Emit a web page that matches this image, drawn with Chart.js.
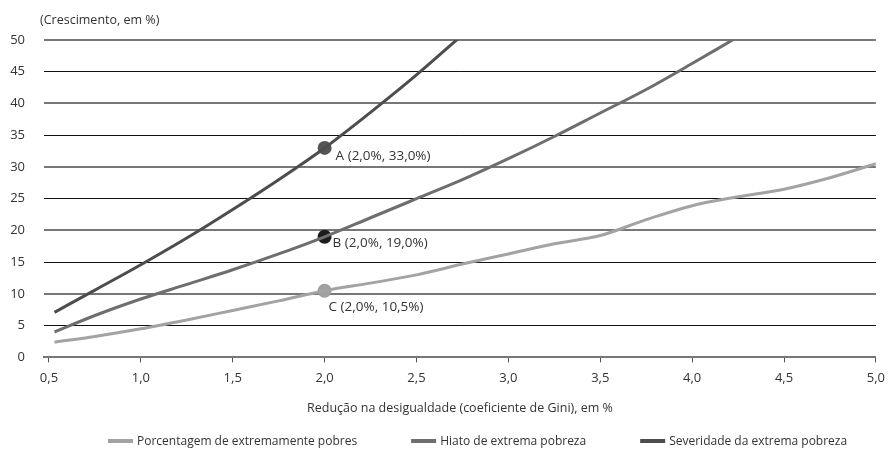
<!DOCTYPE html>
<html>
<head>
<meta charset="utf-8">
<script src="https://cdn.jsdelivr.net/npm/chart.js@4.4.1/dist/chart.umd.min.js"></script>
<style>
    html, body { margin: 0; padding: 0; background: #ffffff; }
    #wrap { width: 893px; height: 450px; }
</style>
</head>
<body>
<div id="wrap"><canvas id="gini-chart"></canvas></div>
<script>
// Reducao do Gini (x) e crescimento necessario (y)
const xPobres = [0.53, 0.75, 1.0, 1.25, 1.5, 1.75, 2.0, 2.25, 2.5, 2.75, 3.0, 3.25, 3.5, 3.75, 4.0, 4.25, 4.5, 4.75, 5.0];
const yPobres = [2.4, 3.3, 4.5, 5.9, 7.4, 8.9, 10.5, 11.7, 13.0, 14.7, 16.3, 17.9, 19.2, 21.7, 23.9, 25.3, 26.5, 28.3, 30.5];

const xHiato = [0.53, 0.75, 1.0, 1.25, 1.5, 1.75, 2.0, 2.25, 2.5, 2.75, 3.0, 3.25, 3.5, 3.75, 4.0, 4.22];
const yHiato = [4.0, 6.6, 9.2, 11.5, 13.8, 16.3, 19.0, 22.0, 25.0, 28.0, 31.3, 34.8, 38.5, 42.2, 46.3, 50.0];

const xSeveridade = [0.53, 0.75, 1.0, 1.25, 1.5, 1.75, 2.0, 2.25, 2.5, 2.73];
const ySeveridade = [7.1, 10.6, 14.6, 18.8, 23.3, 28.0, 33.0, 38.6, 44.5, 50.3];

const seriesNames = ["Porcentagem de extremamente pobres", "Hiato de extrema pobreza", "Severidade da extrema pobreza"];

// pontos destacados A, B, C
const markLetters = ["A", "B", "C"];
const markX = [2.0, 2.0, 2.0];
const markY = [33.0, 19.0, 10.5];

const xTicks = [0.5, 1.0, 1.5, 2.0, 2.5, 3.0, 3.5, 4.0, 4.5, 5.0];
const yTicks = [0, 5, 10, 15, 20, 25, 30, 35, 40, 45, 50];

const FONT = "'Open Sans', 'DejaVu Sans', sans-serif";
const TEXT = "#333333";
const lineColors = ["#a3a3a3", "#6e6e6e", "#4d4d4d"];
const markColors = ["#555555", "#1c1c1c", "#a0a0a0"];

function pairs(xs, ys) {
    return xs.map((x, i) => ({ x: x, y: ys[i] }));
}

function fmt(v, d) {
    return v.toFixed(d).replace(".", ",");
}

const lineOpts = {
    borderWidth: 3,
    pointRadius: 0,
    tension: 0.2,
    cubicInterpolationMode: "monotone",
    fill: false
};

// texto dos pontos, titulo do eixo y e legenda
const extrasPlugin = {
    id: "extras",
    afterDraw(chart) {
        const ctx = chart.ctx;
        const xs = chart.scales.x;
        const ys = chart.scales.y;
        const area = chart.chartArea;
        ctx.save();
        ctx.fillStyle = TEXT;
        ctx.textBaseline = "middle";
        ctx.textAlign = "left";

        ctx.font = "13.5px " + FONT;
        const offsets = [[11, 8], [8, 6], [4, 16]];
        markLetters.forEach((l, i) => {
            const px = xs.getPixelForValue(markX[i]);
            const py = ys.getPixelForValue(markY[i]);
            const label = l + " (" + fmt(markX[i], 1) + "%, " + fmt(markY[i], 1) + "%)";
            ctx.fillText(label, px + offsets[i][0], py + offsets[i][1]);
        });

        ctx.font = "12.5px " + FONT;
        ctx.fillText("(Crescimento, em %)", area.left - 4, area.top - 20);

        // legenda
        ctx.font = "12px " + FONT;
        const sw = 25, gap = 54, textGap = 4;
        const widths = seriesNames.map(n => sw + textGap + ctx.measureText(n).width);
        let x = area.left + 64;
        const y = chart.height - 9;
        seriesNames.forEach((n, i) => {
            ctx.fillStyle = lineColors[i];
            ctx.fillRect(x, y - 2, sw, 4);
            ctx.fillStyle = TEXT;
            ctx.fillText(n, x + sw + textGap, y + 1);
            x += widths[i] + gap;
        });
        ctx.restore();
    }
};

const ctx = document.getElementById("gini-chart").getContext("2d");

new Chart(ctx, {
    type: "line",
    data: {
        datasets: [
            Object.assign({ label: seriesNames[0], data: pairs(xPobres, yPobres), borderColor: lineColors[0] }, lineOpts),
            Object.assign({ label: seriesNames[1], data: pairs(xHiato, yHiato), borderColor: lineColors[1] }, lineOpts),
            Object.assign({ label: seriesNames[2], data: pairs(xSeveridade, ySeveridade), borderColor: lineColors[2] }, lineOpts),
            {
                type: "scatter",
                label: "pontos",
                data: pairs(markX, markY),
                pointRadius: 7,
                pointHoverRadius: 7,
                pointBackgroundColor: markColors,
                pointBorderColor: markColors,
                pointBorderWidth: 0,
                showLine: false
            }
        ]
    },
    options: {
        responsive: true,
        maintainAspectRatio: false,
        animation: false,
        devicePixelRatio: 1,
        layout: { padding: { top: 40, left: 0, right: 11, bottom: 30 } },
        plugins: {
            legend: { display: false },
            tooltip: { enabled: false }
        },
        scales: {
            x: {
                type: "linear",
                min: 0.473,
                max: 5.0,
                afterBuildTicks: axis => { axis.ticks = xTicks.map(v => ({ value: v })); },
                grid: { drawOnChartArea: false, drawTicks: true, tickLength: 5, color: "#555555", lineWidth: 1 },
                border: { display: true, color: "#777777", width: 2 },
                ticks: {
                    padding: 8,
                    maxRotation: 0,
                    autoSkip: false,
                    color: TEXT,
                    font: { family: FONT, size: 13 },
                    callback: v => fmt(v, 1)
                },
                title: {
                    display: true,
                    text: "Redução na desigualdade (coeficiente de Gini), em %",
                    color: TEXT,
                    font: { family: FONT, size: 12.5 },
                    padding: { top: 7, bottom: 4 }
                }
            },
            y: {
                min: 0,
                max: 50,
                afterBuildTicks: axis => { axis.ticks = yTicks.map(v => ({ value: v })); },
                afterFit: axis => { axis.width = 44; },
                grid: {
                    drawTicks: false,
                    color: c => (c.tick && c.tick.value % 10 === 0) ? "#777777" : "#111111",
                    lineWidth: c => (c.tick && c.tick.value % 10 === 0) ? 2 : 1
                },
                border: { display: false },
                ticks: {
                    padding: 19,
                    color: TEXT,
                    font: { family: FONT, size: 13 }
                }
            }
        }
    },
    plugins: [extrasPlugin]
});
</script>
</body>
</html>
